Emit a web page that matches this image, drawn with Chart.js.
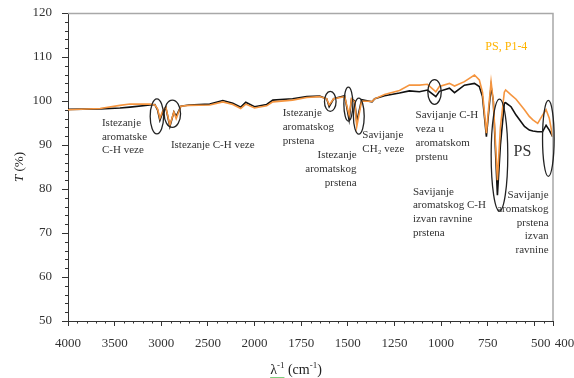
<!DOCTYPE html>
<html>
<head>
<meta charset="utf-8">
<script src="https://cdn.jsdelivr.net/npm/chart.js@4/dist/chart.umd.min.js"></script>
<style>
    html, body { margin: 0; padding: 0; background: #fff; }
    canvas { display: block; }
</style>
</head>
<body>
<canvas id="ftir-chart" width="574" height="378"></canvas>
<script>
// Wavenumbers (cm-1)
const wavenumbers = [
    4000, 3657, 3443, 3336, 3122, 3069, 3040, 3015, 2983, 2951, 2908, 2865, 2840, 2790, 2703,
    2480, 2340, 2233, 2148, 2094, 2000, 1935, 1902, 1796, 1720, 1651, 1613, 1600, 1576, 1517,
    1493, 1480, 1463, 1452, 1426, 1370, 1356, 1303, 1223, 1170, 1116, 1073, 1028, 1009, 955,
    928, 875, 821, 795, 778, 757, 746, 732, 720, 698, 682, 661, 654, 625, 598,
    553, 527, 508, 482, 456, 437, 420, 402
];

// PS (black)
const psValues = [
    98.1, 98.2, 98.4, 98.6, 99.1, 99.2, 98.0, 95.6, 97.5, 98.5, 94.2, 97.5, 96.5, 98.8, 99.1,
    99.3, 100.1, 99.5, 98.6, 99.7, 98.7, 99.2, 100.2, 100.5, 101.0, 101.1, 100.5, 98.7, 100.5, 101.2,
    95.7, 100.5, 100.0, 95.3, 100.3, 99.8, 100.5, 101.2, 101.8, 102.3, 102.1, 102.5, 101.0, 102.2, 102.9,
    101.9, 103.6, 104.0, 103.3, 101.0, 91.9, 97.0, 103.3, 100.0, 78.6, 90.0, 99.5, 99.6, 98.7, 96.8,
    94.2, 93.4, 93.2, 93.0, 93.0, 94.5, 93.4, 91.9
];

// PS, P1-4 (orange)
const psP14Values = [
    98.0, 98.3, 99.0, 99.3, 99.3, 99.1, 98.2, 96.1, 97.8, 98.6, 94.5, 97.5, 96.0, 98.8, 99.0,
    99.1, 99.8, 99.2, 98.3, 99.3, 98.4, 98.9, 99.8, 100.2, 100.8, 101.0, 100.5, 99.1, 100.5, 101.0,
    96.8, 100.5, 99.8, 94.2, 100.0, 99.9, 100.5, 101.5, 102.4, 103.6, 103.6, 103.8, 102.1, 103.3, 104.0,
    103.4, 104.4, 105.9, 104.8, 102.0, 92.7, 98.0, 104.4, 100.0, 82.0, 94.0, 102.0, 102.5, 101.4, 100.4,
    98.0, 96.5, 95.7, 94.9, 96.8, 98.0, 96.1, 91.9
];

// Axis tick labels
const xTickLabels = [4000, 3500, 3000, 2500, 2000, 1750, 1500, 1250, 1000, 750, 500, 400];
const yTickLabels = [50, 60, 70, 80, 90, 100, 110, 120];

// Band annotations (anchored at wavenumber / T)
const notes = [
    { w: 3636, t: 95.0, align: 'left', lines: ['Istezanje', 'aromatske', 'C-H veze'] },
    { w: 2897, t: 90.0, align: 'left', lines: ['Istezanje C-H veze'] },
    { w: 1849, t: 97.2, align: 'left', lines: ['Istezanje', 'aromatskog', 'prstena'] },
    { w: 1453, t: 87.7, align: 'right', lines: ['Istezanje', 'aromatskog', 'prstena'] },
    { w: 1422, t: 92.3, align: 'left', lines: ['Savijanje', 'CH\u2082 veze'] },
    { w: 1137, t: 96.7, align: 'left', lines: ['Savijanje C-H', 'veza u', 'aromatskom', 'prstenu'] },
    { w: 1151, t: 79.4, align: 'left', lines: ['Savijanje', 'aromatskog C-H', 'izvan ravnine', 'prstena'] },
    { w: 424, t: 78.6, align: 'right', lines: ['Savijanje', 'aromatskog', 'prstena', 'izvan', 'ravnine'] }
];

// Circled bands
const rings = [
    { w: 3047, t: 96.5, rx: 6.7, ry: 17.5 },
    { w: 2881, t: 97.1, rx: 8.2, ry: 13.7 },
    { w: 1594, t: 99.9, rx: 5.8, ry: 10 },
    { w: 1497, t: 99.3, rx: 4.5, ry: 17 },
    { w: 1441, t: 96.55, rx: 5.4, ry: 18 },
    { w: 1035, t: 102.05, rx: 6.7, ry: 12.3 },
    { w: 687, t: 87.7, rx: 8.3, ry: 56 },
    { w: 425, t: 91.5, rx: 5.8, ry: 38 }
];

const SERIF = "'Liberation Serif', 'Times New Roman', serif";

// The axis is split: 500 cm-1 per division above 2000, 250 below
function toAxis(w) {
    return w >= 2000 ? (4000 - w) / 500 : 4 + (2000 - w) / 250;
}

function toPoints(values) {
    return wavenumbers.map((w, i) => ({ x: toAxis(w), y: values[i] }));
}

const extras = {
    id: 'extras',
    afterDraw(chart) {
        const { ctx, chartArea: a, scales: { x, y } } = chart;
        ctx.save();

        // top and right frame
        ctx.strokeStyle = '#a8a8a8';
        ctx.lineWidth = 1.5;
        ctx.beginPath();
        ctx.moveTo(a.left, a.top + 0.5);
        ctx.lineTo(a.right, a.top + 0.5);
        ctx.lineTo(a.right, a.bottom);
        ctx.stroke();

        // minor ticks
        ctx.strokeStyle = '#333';
        ctx.lineWidth = 1;
        ctx.beginPath();
        for (let v = 52; v < 120; v += 2) {
            if (v % 10 === 0) continue;
            const py = Math.round(y.getPixelForValue(v)) + 0.5;
            ctx.moveTo(a.left - 3, py);
            ctx.lineTo(a.left, py);
        }
        for (let k = 1; k < 52; k++) {
            if (k % 5 === 0) continue;
            const px = Math.round(x.getPixelForValue(k / 5)) + 0.5;
            ctx.moveTo(px, a.bottom);
            ctx.lineTo(px, a.bottom + 2.5);
        }
        ctx.stroke();

        // rings
        ctx.strokeStyle = '#222';
        ctx.lineWidth = 1.3;
        rings.forEach(r => {
            ctx.beginPath();
            ctx.ellipse(x.getPixelForValue(toAxis(r.w)), y.getPixelForValue(r.t), r.rx, r.ry, 0, 0, Math.PI * 2);
            ctx.stroke();
        });

        // notes
        ctx.fillStyle = '#333';
        ctx.font = '11px ' + SERIF;
        ctx.textBaseline = 'middle';
        notes.forEach(n => {
            const px = x.getPixelForValue(toAxis(n.w));
            const py = y.getPixelForValue(n.t);
            ctx.textAlign = n.align;
            n.lines.forEach((line, i) => ctx.fillText(line, px, py + i * 13.8));
        });

        ctx.textAlign = 'center';
        ctx.font = '16px ' + SERIF;
        ctx.fillText('PS', x.getPixelForValue(toAxis(564)), y.getPixelForValue(88.4));
        ctx.font = '12px ' + SERIF;
        ctx.fillStyle = '#ffb400';
        ctx.fillText('PS, P1-4', x.getPixelForValue(toAxis(650)), y.getPixelForValue(112.3));

        // y axis title: italic T (%)
        ctx.fillStyle = '#222';
        ctx.translate(20, (a.top + a.bottom) / 2);
        ctx.rotate(-Math.PI / 2);
        ctx.textAlign = 'left';
        ctx.font = 'italic 13px ' + SERIF;
        const tW = ctx.measureText('T').width;
        ctx.font = '13px ' + SERIF;
        const restW = ctx.measureText(' (%)').width;
        const start = -(tW + restW) / 2;
        ctx.font = 'italic 13px ' + SERIF;
        ctx.fillText('T', start, 0);
        ctx.font = '13px ' + SERIF;
        ctx.fillText(' (%)', start + tW, 0);
        ctx.setTransform(1, 0, 0, 1, 0, 0);

        // x axis title: λ-1 (cm-1)
        const parts = [
            { t: '\u03bb', sup: false },
            { t: '-1', sup: true },
            { t: ' (cm', sup: false },
            { t: '-1', sup: true },
            { t: ')', sup: false }
        ];
        const widths = parts.map(p => {
            ctx.font = (p.sup ? '9px ' : '14px ') + SERIF;
            return ctx.measureText(p.t).width;
        });
        const total = widths.reduce((s, v) => s + v, 0);
        let cx = 296 - total / 2;
        const base = 374;
        ctx.textBaseline = 'alphabetic';
        ctx.textAlign = 'left';
        const lambdaEnd = cx + widths[0] + widths[1];
        ctx.strokeStyle = '#7fcf7f';
        ctx.lineWidth = 1;
        ctx.beginPath();
        ctx.moveTo(cx, base + 3.5);
        ctx.lineTo(lambdaEnd, base + 3.5);
        ctx.stroke();
        parts.forEach((p, i) => {
            ctx.font = (p.sup ? '9px ' : '14px ') + SERIF;
            ctx.fillText(p.t, cx, p.sup ? base - 6 : base);
            cx += widths[i];
        });

        ctx.restore();
    }
};

document.addEventListener('DOMContentLoaded', () => {
    const ctx = document.getElementById('ftir-chart').getContext('2d');

    new Chart(ctx, {
        type: 'line',
        data: {
            datasets: [
                {
                    label: 'PS, P1-4',
                    data: toPoints(psP14Values),
                    borderColor: '#f5953f',
                    borderWidth: 1.6,
                    pointRadius: 0,
                    tension: 0,
                    fill: false
                },
                {
                    label: 'PS',
                    data: toPoints(psValues),
                    borderColor: '#111',
                    borderWidth: 1.6,
                    pointRadius: 0,
                    tension: 0,
                    fill: false
                }
            ]
        },
        options: {
            responsive: false,
            animation: false,
            devicePixelRatio: 1,
            layout: { padding: { top: 13, right: 21, left: 0, bottom: 0 } },
            plugins: {
                legend: { display: false },
                tooltip: { enabled: false }
            },
            scales: {
                x: {
                    type: 'linear',
                    min: 0,
                    max: toAxis(400),
                    afterBuildTicks: (scale) => {
                        scale.ticks = xTickLabels.map(w => ({ value: toAxis(w) }));
                    },
                    afterFit: (scale) => {
                        scale.height = 57;
                        scale.paddingLeft = 0;
                        scale.paddingRight = 0;
                    },
                    grid: { drawOnChartArea: false, tickLength: 5, tickColor: '#333' },
                    border: { color: '#333', width: 1 },
                    ticks: {
                        autoSkip: false,
                        maxRotation: 0,
                        padding: 10,
                        color: '#333',
                        font: { family: SERIF, size: 13 },
                        callback: (value, index) => {
                            const w = xTickLabels[index];
                            // the last two labels sit a little to the right in the original
                            if (w === 500) return '    ' + w;
                            if (w === 400) return '       ' + w;
                            return String(w);
                        }
                    }
                },
                y: {
                    min: 50,
                    max: 120,
                    afterBuildTicks: (scale) => {
                        scale.ticks = yTickLabels.map(v => ({ value: v }));
                    },
                    afterFit: (scale) => {
                        scale.width = 68;
                        scale.paddingTop = 0;
                        scale.paddingBottom = 0;
                    },
                    grid: { drawOnChartArea: false, tickLength: 6, tickColor: '#333' },
                    border: { color: '#333', width: 1 },
                    ticks: {
                        padding: 10,
                        color: '#333',
                        font: { family: SERIF, size: 13 }
                    }
                }
            }
        },
        plugins: [extras]
    });
});
</script>
</body>
</html>
